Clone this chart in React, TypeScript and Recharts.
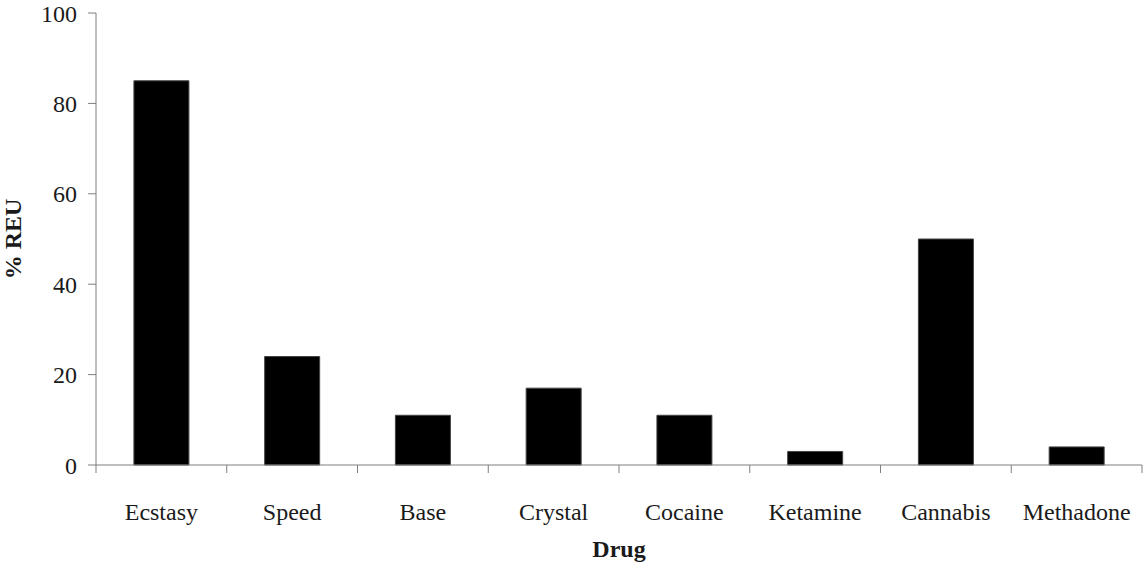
import { BarChart, Bar, XAxis, YAxis } from "recharts";

const drugs = ["Ecstasy", "Speed", "Base", "Crystal", "Cocaine", "Ketamine", "Cannabis", "Methadone"];
const reuPercent = [85, 24, 11, 17, 11, 3, 50, 4];
const yTicks = [0, 20, 40, 60, 80, 100];

const data = drugs.map((name, i) => ({ name, value: reuPercent[i] }));

const FONT = "'Liberation Serif', 'Times New Roman', serif";
const AXIS = "#7f7f7f";
const TEXT = "#1a1a1a";
const TICK_SIZE = 8;
const X_TICK_MARGIN = 30;

// Excel-style category axis: tick marks sit on the category boundaries, labels in the middle
const CategoryTick = (props: any) => {
  const { x, y, payload, index } = props;
  const half = payload?.offset ?? 0;
  const axisY = y - TICK_SIZE - X_TICK_MARGIN;
  return (
    <g>
      <line x1={x - half} x2={x - half} y1={axisY} y2={axisY + TICK_SIZE} stroke={AXIS} />
      {index === drugs.length - 1 && (
        <line x1={x + half} x2={x + half} y1={axisY} y2={axisY + TICK_SIZE} stroke={AXIS} />
      )}
      <text x={x} y={y} dy="0.71em" textAnchor="middle" fill={TEXT} fontSize={24} fontFamily={FONT}>
        {payload.value}
      </text>
    </g>
  );
};

const YLabel = (props: any) => {
  const { viewBox } = props;
  const cx = 13;
  const cy = viewBox.y + viewBox.height / 2;
  return (
    <text
      x={cx}
      y={cy}
      transform={`rotate(-90 ${cx} ${cy})`}
      textAnchor="middle"
      dominantBaseline="central"
      fill={TEXT}
      fontSize={24}
      fontWeight={700}
      fontFamily={FONT}
    >
      % REU
    </text>
  );
};

const XLabel = (props: any) => {
  const { viewBox } = props;
  return (
    <text
      x={viewBox.x + viewBox.width / 2}
      y={viewBox.y + viewBox.height - 7}
      textAnchor="middle"
      fill={TEXT}
      fontSize={24}
      fontWeight={700}
      fontFamily={FONT}
    >
      Drug
    </text>
  );
};

export default function App() {
  return (
    <div style={{ position: "absolute", left: 0, top: 0, background: "#fff" }}>
      <BarChart
        width={1145}
        height={564}
        data={data}
        margin={{ top: 13, right: 3, left: 0, bottom: 0 }}
        barCategoryGap="29%"
      >
        <XAxis
          dataKey="name"
          height={99}
          stroke={AXIS}
          tickLine={false}
          tickSize={TICK_SIZE}
          tickMargin={X_TICK_MARGIN}
          tick={<CategoryTick />}
          interval={0}
          label={<XLabel />}
        />
        <YAxis
          domain={[0, 100]}
          ticks={yTicks}
          width={96}
          stroke={AXIS}
          tickSize={TICK_SIZE}
          tickMargin={11}
          tick={{ fontSize: 24, fill: TEXT, fontFamily: FONT }}
          label={<YLabel />}
        />
        <Bar dataKey="value" fill="#000" stroke="#444" strokeWidth={1} isAnimationActive={false} />
      </BarChart>
    </div>
  );
}
